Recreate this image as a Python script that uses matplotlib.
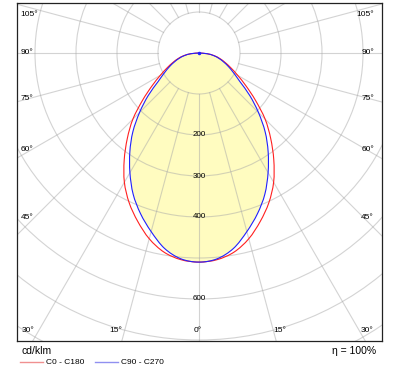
import numpy as np
import matplotlib
matplotlib.use('Agg')
import matplotlib.pyplot as plt
from matplotlib.path import Path
from matplotlib.patches import PathPatch, Circle

# gamma angle from nadir (deg) and intensity (cd/klm), symmetric halves
gamma = [0, 5, 10, 15, 20, 25, 30, 35, 40, 45, 50, 55, 60, 65, 70, 75, 80, 85, 90]
c0_c180 = [510, 506, 493, 469, 437, 403, 364, 318, 272, 228, 180, 140, 109, 86, 68, 53, 38, 20, 0]
c90_c270 = [510, 504, 484, 451, 417, 380, 337, 294, 251, 205, 162, 122, 98, 80, 64, 50, 36, 20, 0]

rings = [100, 200, 300, 400, 500, 600, 700, 800, 900]
ring_labels = [200, 300, 400, 600]
side_labels = ['105°', '90°', '75°', '60°', '45°']
bottom_labels = ['30°', '15°', '0°', '15°', '30°']

W, H = 398, 373
CX, CY = 199, 53      # pole position in pixels
SCALE = 0.41          # px per cd/klm


def fig_xy(px, py):
  return px / W, 1 - py / H


def polar_xy(g, vals):
  g = np.radians(g)
  return np.asarray(vals) * np.sin(g), -np.asarray(vals) * np.cos(g)


def full_curve(vals):
  g = [-a for a in gamma[::-1]] + gamma[1:]
  v = list(vals[::-1]) + list(vals[1:])
  return polar_xy(g, v)


def smooth_path(xx, yy):
  # Catmull-Rom through the read points, drawn as cubic beziers
  pts = np.column_stack([xx, yy])
  verts = [pts[0]]
  codes = [Path.MOVETO]
  n = len(pts)
  for i in range(n - 1):
    p0 = pts[max(i - 1, 0)]
    p1 = pts[i]
    p2 = pts[i + 1]
    p3 = pts[min(i + 2, n - 1)]
    verts += [p1 + (p2 - p0) / 6.0, p2 - (p3 - p1) / 6.0, p2]
    codes += [Path.CURVE4] * 3
  return Path(verts, codes)


fig = plt.figure(figsize=(W / 100, H / 100), dpi=100)
left, top, right, bottom = 17, 3, 382, 341
ax = fig.add_axes([left / W, 1 - bottom / H, (right - left) / W, (bottom - top) / H])
ax.set_xlim((left - CX) / SCALE, (right - CX) / SCALE)
ax.set_ylim(-(bottom - CY) / SCALE, (CY - top) / SCALE)
ax.set_xticks([])
ax.set_yticks([])
for s in ax.spines.values():
  s.set_color('#222222')
  s.set_linewidth(0.9)

# lobe fill (inside both curves)
inner = np.minimum(c0_c180, c90_c270)
fx, fy = full_curve(inner)
ax.add_patch(PathPatch(smooth_path(fx, fy), facecolor='#fffcc0', edgecolor='none', zorder=1))

# grid
gcol = '#a8a8a8'
for r in rings:
  ax.add_patch(Circle((0, 0), r, fill=False, edgecolor=gcol, alpha=0.5, linewidth=0.8, zorder=2))
for a in range(0, 360, 15):
  t = np.radians(a)
  ax.plot([100 * np.sin(t), 1200 * np.sin(t)], [-100 * np.cos(t), -1200 * np.cos(t)],
          color=gcol, alpha=0.5, linewidth=0.8, zorder=2)

# curves
for vals, col in [(c0_c180, '#ff2020'), (c90_c270, '#2020ff')]:
  xx, yy = full_curve(vals)
  ax.add_patch(PathPatch(smooth_path(xx, yy), facecolor='none', edgecolor=col, linewidth=0.8, zorder=3))
ax.plot([0], [0], marker='o', markersize=1.5, color='#2020ff', zorder=4)

for r in ring_labels:
  ax.text(0, -r, str(r), ha='center', va='center', fontsize=5.8, family='Liberation Sans', zorder=5)

fs = 6
side_y = [14, 53, 98, 149, 218]
for lab, py in zip(side_labels, side_y):
  fig.text(*fig_xy(20.5, py), lab, ha='left', va='center', fontsize=fs, family='Liberation Sans')
  fig.text(*fig_xy(374, py), lab, ha='right', va='center', fontsize=fs, family='Liberation Sans')
bottom_x = [28, 116, 198, 280, 367]
for lab, px in zip(bottom_labels, bottom_x):
  fig.text(*fig_xy(px, 331), lab, ha='center', va='center', fontsize=fs, family='Liberation Sans')

# legend
fig.text(*fig_xy(21, 351), 'cd/klm', ha='left', va='center', fontsize=7.5, family='Liberation Sans')
fig.text(*fig_xy(376, 351), 'η = 100%', ha='right', va='center', fontsize=7.5, family='Liberation Sans')
fig.add_artist(plt.Line2D([20 / W, 43 / W], [1 - 362 / H] * 2, color='#f09090', linewidth=1))
fig.add_artist(plt.Line2D([95 / W, 118 / W], [1 - 362 / H] * 2, color='#9090f0', linewidth=1))
fig.text(*fig_xy(46, 362), 'C0 - C180', ha='left', va='center', fontsize=6, family='Liberation Sans')
fig.text(*fig_xy(121, 362), 'C90 - C270', ha='left', va='center', fontsize=6, family='Liberation Sans')

fig.savefig('out.png', dpi=100)
